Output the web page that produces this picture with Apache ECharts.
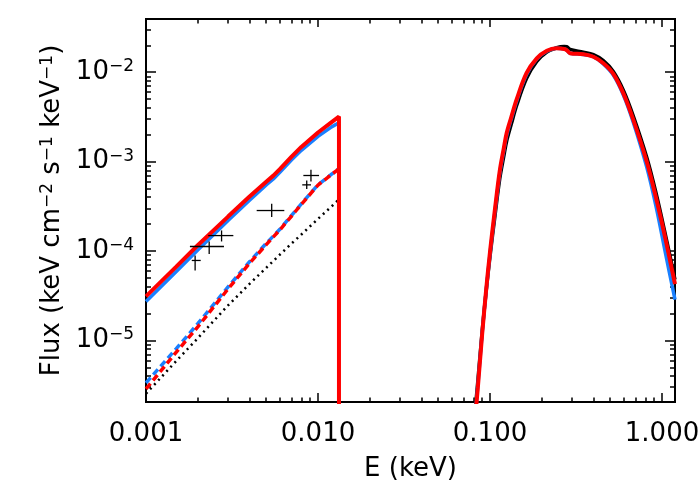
<!DOCTYPE html>
<html>
<head>
<meta charset="utf-8">
<script src="https://cdn.jsdelivr.net/npm/echarts@6/dist/echarts.min.js"></script>
<style>
  html, body { margin: 0; background: #fff; }
  #chart { width: 700px; height: 500px; }
</style>
</head>
<body>
<div id="chart"></div>
<script>
const FONT = 'DejaVu Sans'
const lg = v => Math.log10(v)

// axis ranges and ticks
const xRange = [0.001, 1.19]
const yRange = [2.05e-6, 0.0394]
const xMajorTicks = [0.001, 0.01, 0.1, 1]
const xTickLabels = ['0.001', '0.010', '0.100', '1.000']
const yMajorTicks = [1e-5, 1e-4, 1e-3, 1e-2]
const yTickExps = ['\u22125', '\u22124', '\u22123', '\u22122']

// low energy part (keV)
const eLow = [0.001, 0.0015, 0.002, 0.003, 0.004, 0.005, 0.0055, 0.006, 0.007, 0.008, 0.010, 0.012, 0.01324]
const redSolidLow = [3.11e-5, 6.7e-5, 1.16e-4, 2.43e-4, 4.07e-4, 5.97e-4, 6.98e-4, 8.24e-4, 1.13e-3, 1.46e-3, 2.12e-3, 2.77e-3, 3.19e-3]
const blueSolidLow = [2.72e-5, 5.9e-5, 1.03e-4, 2.2e-4, 3.7e-4, 5.5e-4, 6.4e-4, 7.6e-4, 1.04e-3, 1.34e-3, 1.92e-3, 2.45e-3, 2.72e-3]
const redDashLow = [2.87e-6, 7.4e-6, 1.42e-5, 3.77e-5, 7.3e-5, 1.18e-4, 1.44e-4, 1.72e-4, 2.45e-4, 3.33e-4, 5.47e-4, 7.2e-4, 8.3e-4]
const blueDashLow = [3.35e-6, 8.1e-6, 1.54e-5, 3.98e-5, 7.6e-5, 1.22e-4, 1.47e-4, 1.75e-4, 2.49e-4, 3.37e-4, 5.52e-4, 7.24e-4, 8.36e-4]
const dotLow = [2.54e-6, 5.9e-6, 1.06e-5, 2.47e-5, 4.3e-5, 6.5e-5, 7.75e-5, 9.1e-5, 1.21e-4, 1.53e-4, 2.29e-4, 3.16e-4, 3.78e-4]
// cutoff of the red model
const cutoffE = 0.01324
const floorFlux = 1e-9

// high energy bump (keV)
const eHigh = [0.080, 0.085, 0.090, 0.095, 0.100, 0.107, 0.114, 0.120, 0.125, 0.133, 0.143, 0.163, 0.187, 0.214, 0.244,
  0.270, 0.280, 0.292, 0.349, 0.399, 0.456, 0.521, 0.596, 0.681, 0.815, 0.923, 1.048, 1.19]
const redHigh = [7.9e-7, 3.0e-6, 1.17e-5, 3.7e-5, 9.8e-5, 3.02e-4, 7.94e-4, 1.38e-3, 2.09e-3, 3.16e-3, 5.0e-3, 9.75e-3, 1.43e-2, 1.74e-2, 1.85e-2,
  1.82e-2, 1.76e-2, 1.63e-2, 1.59e-2, 1.49e-2, 1.26e-2, 9.6e-3, 5.8e-3, 2.93e-3, 1.0e-3, 3.94e-4, 1.36e-4, 4.27e-5]
const blueHigh = [8.3e-7, 3.16e-6, 1.2e-5, 3.63e-5, 9.3e-5, 2.82e-4, 7.41e-4, 1.30e-3, 1.97e-3, 3.02e-3, 4.79e-3, 9.44e-3, 1.41e-2, 1.72e-2, 1.85e-2,
  1.82e-2, 1.76e-2, 1.63e-2, 1.58e-2, 1.49e-2, 1.24e-2, 9.3e-3, 5.56e-3, 2.75e-3, 8.7e-4, 3.16e-4, 9.4e-5, 2.86e-5]
const blackHigh = [1.0e-6, 3.55e-6, 1.26e-5, 3.55e-5, 8.7e-5, 2.51e-4, 6.46e-4, 1.12e-3, 1.70e-3, 2.63e-3, 4.27e-3, 8.5e-3, 1.32e-2, 1.68e-2, 1.88e-2,
  1.94e-2, 1.93e-2, 1.8e-2, 1.68e-2, 1.57e-2, 1.35e-2, 1.02e-2, 6.3e-3, 3.24e-3, 1.12e-3, 4.47e-4, 1.51e-4, 4.8e-5]

// observed points with error bars
const obsE = [0.00193, 0.00233, 0.00275, 0.00538, 0.0086, 0.0091]
const obsElo = [0.001845, 0.0018, 0.0023, 0.0044, 0.0081, 0.00822]
const obsEhi = [0.00208, 0.00284, 0.00322, 0.00637, 0.0091, 0.01014]
const obsF = [7.85e-5, 1.125e-4, 1.49e-4, 2.84e-4, 5.5e-4, 7.0e-4]
const obsFlo = [6.07e-5, 9.3e-5, 1.28e-4, 2.4e-4, 4.93e-4, 6.0e-4]
const obsFhi = [8.9e-5, 1.28e-4, 1.7e-4, 3.38e-4, 6.15e-4, 8.1e-4]

const RED = '#ff0000'
const BLUE = '#1a80ff'

// minor ticks 2..9 of each decade, in log space
const minorTicks = (lo, hi) => {
  const out = []
  for (let n = Math.floor(lg(lo)); n <= Math.ceil(lg(hi)); n++) {
    for (let k = 2; k <= 9; k++) {
      const v = k * Math.pow(10, n)
      if (v > lo && v < hi) out.push(lg(v))
    }
  }
  return out
}

const pairs = (xs, ys) => xs.map((x, i) => [lg(x), lg(ys[i])])

const grid = { left: 146, right: 25, top: 19, bottom: 98, containLabel: false, outerBoundsMode: 'none' }

const tickStyle = { color: '#000', width: 1.5 }

const xAxis = (gridIndex, position, ticks, len, label) => ({
  type: 'value',
  gridIndex,
  position,
  min: lg(xRange[0]),
  max: lg(xRange[1]),
  axisLine: { show: true, onZero: false, lineStyle: { color: '#000', width: 2 } },
  axisTick: { show: true, inside: true, length: len, customValues: ticks, lineStyle: tickStyle },
  axisLabel: label || { show: false },
  splitLine: { show: false }
})

const yAxis = (gridIndex, position, ticks, len, label) => ({
  type: 'value',
  gridIndex,
  position,
  min: lg(yRange[0]),
  max: lg(yRange[1]),
  axisLine: { show: true, onZero: false, lineStyle: { color: '#000', width: 2 } },
  axisTick: { show: true, inside: true, length: len, customValues: ticks, lineStyle: tickStyle },
  axisLabel: label || { show: false },
  splitLine: { show: false }
})

const xMajor = xMajorTicks.map(lg)
const yMajor = yMajorTicks.map(lg)
const xMinor = minorTicks(xRange[0], xRange[1])
const yMinor = minorTicks(yRange[0], yRange[1])

const pick = (ticks, v) => ticks.findIndex(t => Math.abs(lg(t) - v) < 1e-6)

const xLabel = {
  show: true,
  customValues: xMajor,
  margin: 19,
  color: '#000',
  fontFamily: FONT,
  fontSize: 26,
  formatter: v => xTickLabels[pick(xMajorTicks, v)]
}

const yLabel = {
  show: true,
  customValues: yMajor,
  margin: 12,
  color: '#000',
  formatter: v => '{b|10}{s|' + yTickExps[pick(yMajorTicks, v)] + '}',
  rich: {
    b: { fontFamily: FONT, fontSize: 26, lineHeight: 28, color: '#000' },
    s: { fontFamily: FONT, fontSize: 17, lineHeight: 17, verticalAlign: 'top', color: '#000' }
  }
}

const bottomAxis = xAxis(0, 'bottom', xMajor, 9, xLabel)
bottomAxis.name = 'E (keV)'
bottomAxis.nameLocation = 'middle'
bottomAxis.nameGap = 54
bottomAxis.nameTextStyle = { fontFamily: FONT, fontSize: 26, color: '#000' }

const leftAxis = yAxis(0, 'left', yMajor, 10, yLabel)
leftAxis.name = 'Flux (keV cm{s|\u22122} s{s|\u22121} keV{s|\u22121})'
leftAxis.nameLocation = 'middle'
leftAxis.nameRotate = 90
leftAxis.nameGap = 80
leftAxis.nameTextStyle = {
  fontFamily: FONT,
  fontSize: 26,
  color: '#000',
  rich: { s: { fontFamily: FONT, fontSize: 17, lineHeight: 17, verticalAlign: 'top', color: '#000' } }
}

const line = (data, color, width, type, z, smooth) => ({
  type: 'line',
  xAxisIndex: 0,
  yAxisIndex: 0,
  data,
  showSymbol: false,
  symbol: 'none',
  clip: true,
  smooth: smooth || false,
  z,
  lineStyle: { color, width, type, cap: 'butt' },
  emphasis: { disabled: true }
})

const myChart = echarts.init(document.getElementById('chart'))

const option = {
  animation: false,
  backgroundColor: '#fff',
  grid: [grid, { ...grid }],
  xAxis: [
    bottomAxis,
    xAxis(0, 'top', xMajor, 8),
    xAxis(1, 'bottom', xMinor, 4.5),
    xAxis(1, 'top', xMinor, 4.5)
  ],
  yAxis: [
    leftAxis,
    yAxis(0, 'right', yMajor, 10),
    yAxis(1, 'left', yMinor, 5),
    yAxis(1, 'right', yMinor, 5)
  ],
  series: [
    line(pairs(eLow, dotLow), '#000', 2.5, [2, 4], 1),
    line(pairs(eLow, blueDashLow), BLUE, 3.5, [7, 4], 2),
    line(pairs(eLow, redDashLow), RED, 3.5, [7, 4], 3),
    line(pairs(eHigh, blackHigh), '#000', 3.5, 'solid', 4, 0.35),
    line(pairs(eLow, blueSolidLow), BLUE, 3.5, 'solid', 5),
    line(pairs(eHigh, blueHigh), BLUE, 3.5, 'solid', 5, 0.35),
    line(pairs(eLow, redSolidLow).concat([[lg(cutoffE), lg(floorFlux)]]), RED, 4, 'solid', 6),
    line(pairs(eHigh, redHigh), RED, 4, 'solid', 6, 0.35),
    {
      type: 'custom',
      xAxisIndex: 0,
      yAxisIndex: 0,
      z: 10,
      data: obsE.map((e, i) => [lg(e), lg(obsF[i]), lg(obsElo[i]), lg(obsEhi[i]), lg(obsFlo[i]), lg(obsFhi[i])]),
      encode: { x: [0, 2, 3], y: [1, 4, 5] },
      renderItem: (params, api) => {
        const l = api.coord([api.value(2), api.value(1)])
        const r = api.coord([api.value(3), api.value(1)])
        const b = api.coord([api.value(0), api.value(4)])
        const t = api.coord([api.value(0), api.value(5)])
        const style = { stroke: '#000', lineWidth: 1.3 }
        return {
          type: 'group',
          children: [
            { type: 'line', shape: { x1: l[0], y1: l[1], x2: r[0], y2: r[1] }, style },
            { type: 'line', shape: { x1: b[0], y1: b[1], x2: t[0], y2: t[1] }, style }
          ]
        }
      }
    }
  ]
}

myChart.setOption(option)
</script>
</body>
</html>
